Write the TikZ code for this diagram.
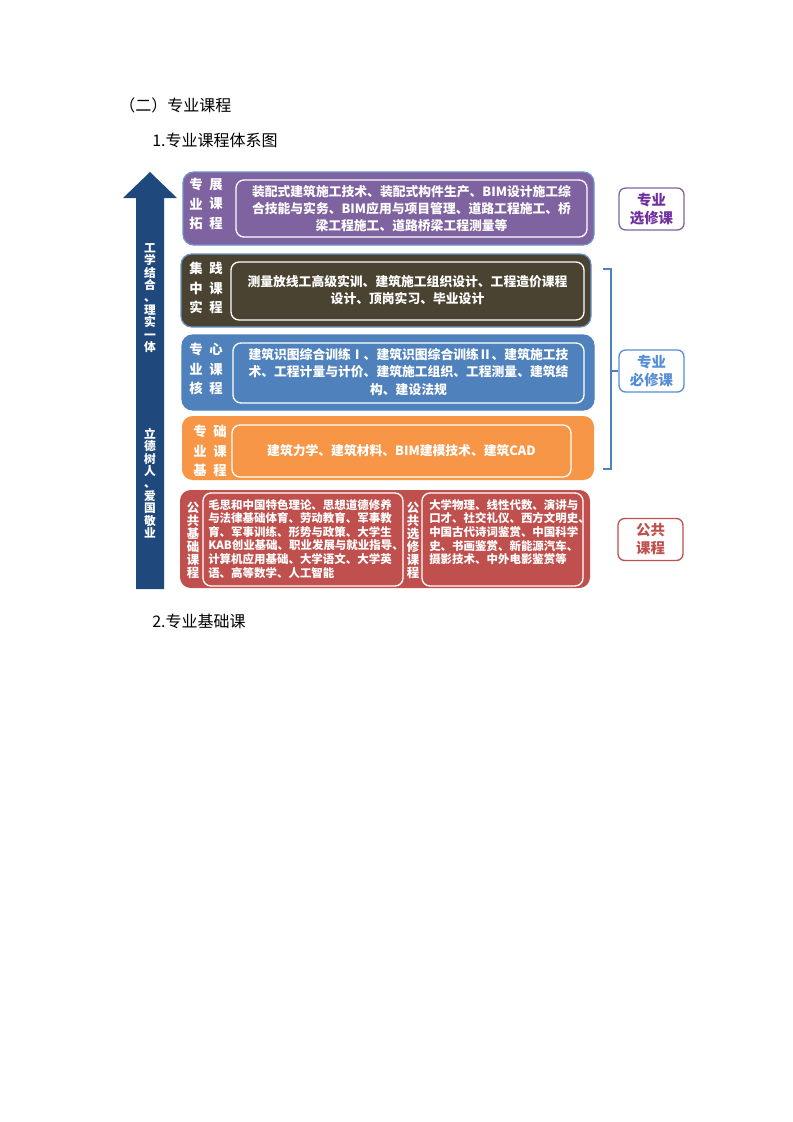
\documentclass[tikz,border=0pt]{standalone}
\usepackage{fontspec}
\setmainfont{Noto Sans CJK SC}
\usetikzlibrary{fit}
\definecolor{cpurple}{HTML}{7F63A1}
\definecolor{colive}{HTML}{4A4331}
\definecolor{cblue}{HTML}{4F81BD}
\definecolor{corange}{HTML}{F79646}
\definecolor{cred}{HTML}{C0504D}
\definecolor{cnavy}{HTML}{1F497D}
\definecolor{cpurpletext}{HTML}{7030A0}
\definecolor{cbluetext}{HTML}{558ED5}
\begin{document}
\begin{tikzpicture}[x=0.75pt,y=-0.75pt,
  outer/.style={rounded corners=8pt, inner sep=0pt, line width=0.9pt},
  innerbox/.style={draw=white, line width=1pt, rounded corners=6pt, inner sep=0pt},
  boxtext/.style={text=white, font=\bfseries\fontsize{9.6}{12.8}\selectfont, align=center, inner sep=0pt},
  redtext/.style={text=white, font=\bfseries\fontsize{8.6}{10.2}\selectfont, align=left, inner sep=0pt},
  lab/.style={text=white, font=\bfseries\fontsize{10}{14.6}\selectfont, align=center, inner sep=0pt},
  vlab/.style={text=white, font=\bfseries\fontsize{9.3}{9.75}\selectfont, align=center, inner sep=0pt},
  arrowtext/.style={text=white, font=\bfseries\fontsize{8.8}{9.3}\selectfont, align=center, inner sep=0pt},
  heading/.style={font=\fontsize{12}{14}\selectfont, anchor=west, inner sep=0pt},
  sidebox/.style={draw, fill=white, rounded corners=5pt, line width=1pt, minimum width=48.75pt, minimum height=31.5pt, align=center, font=\bfseries\fontsize{10.8}{13.5}\selectfont, inner sep=0pt}
]
\useasboundingbox[fill=white] (0,0) rectangle (793,1122);

% headings
\node[heading] (h1) at (119,105) {（二）专业课程};
\node[heading] (h2) at (152,140) {1.专业课程体系图};
\node[heading] (h3) at (152,621) {2.专业基础课};

% big arrow
\fill[cnavy] (150,172) -- (177,198) -- (164,198) -- (164,589) -- (136,589) -- (136,198) -- (123,198) -- cycle;
\node[arrowtext] (a1) at (150,298) {工\\学\\结\\合\\、\\理\\实\\一\\体};
\node[arrowtext] (a2) at (150,483) {立\\德\\树\\人\\、\\爱\\国\\敬\\业};

% purple box
\node[outer, fill=cpurple, draw=cblue!85, fit={(183,172) (594,245)}] (b1) {};
\node[innerbox, fit={(236,180) (587,237)}] (b1i) {};
\node[boxtext] (b1t) at (411.5,208.5) {装配式建筑施工技术、装配式构件生产、BIM设计施工综\\合技能与实务、BIM应用与项目管理、道路工程施工、桥\\梁工程施工、道路桥梁工程测量等};
\node[lab] (b1l1) at (196,204) {专\\业\\拓};
\node[lab] (b1l2) at (216,204) {展\\课\\程};

% olive box
\node[outer, fill=colive, draw=cblue!85, fit={(181,254) (591,327)}] (b2) {};
\node[innerbox, fit={(231,262) (584,320)}] (b2i) {};
\node[boxtext] (b2t) at (407.5,290) {测量放线工高级实训、建筑施工组织设计、工程造价课程\\设计、顶岗实习、毕业设计};
\node[lab] (b2l1) at (196,288) {集\\中\\实};
\node[lab] (b2l2) at (216,288) {践\\课\\程};

% blue box
\node[outer, fill=cblue, draw=cblue, fit={(182,335) (594,410)}] (b3) {};
\node[innerbox, fit={(233,343) (584,403)}] (b3i) {};
\node[boxtext] (b3t) at (408.5,372) {建筑识图综合训练Ⅰ、建筑识图综合训练Ⅱ、建筑施工技\\术、工程计量与计价、建筑施工组织、工程测量、建筑结\\构、建设法规};
\node[lab] (b3l1) at (196,369) {专\\业\\核};
\node[lab] (b3l2) at (216,369) {心\\课\\程};

% orange box
\node[outer, fill=corange, fit={(182,416) (594,480)}] (b4) {};
\node[innerbox, fit={(232,425) (571,477)}] (b4i) {};
\node[boxtext] (b4t) at (401.5,451) {建筑力学、建筑材料、BIM建模技术、建筑CAD};
\node[lab] (b4l1) at (200,451) {专\\业\\基};
\node[lab] (b4l2) at (220,451) {础\\课\\程};

% red box
\node[outer, fill=cred, fit={(180,490) (590,588)}] (b5) {};
\node[innerbox, fit={(203,493) (403,586)}] (b5i) {};
\node[innerbox, fit={(422,493) (583,586)}] (b5j) {};
\node[redtext, anchor=north west] (b5t) at (208,499) {毛思和中国特色理论、思想道德修养\\与法律基础体育、劳动教育、军事教\\育、军事训练、形势与政策、大学生\\KAB创业基础、职业发展与就业指导、\\计算机应用基础、大学语文、大学英\\语、高等数学、人工智能};
\node[redtext, anchor=north west] (b5u) at (429,499) {大学物理、线性代数、演讲与\\口才、社交礼仪、西方文明史、\\中国古代诗词鉴赏、中国科学\\史、书画鉴赏、新能源汽车、\\摄影技术、中外电影鉴赏等};
\node[vlab] (b5l) at (193,540) {公\\共\\基\\础\\课\\程};
\node[vlab] (b5m) at (413,540) {公\\共\\选\\修\\课\\程};

% side labels
\node[sidebox, draw=cpurple, text=cpurpletext] (opt) at (651.5,209) {专业\\选修课};
\node[sidebox, draw=cbluetext, text=cbluetext] (req) at (651.5,371) {专业\\必修课};
\node[sidebox, draw=cred, text=cred] (pub) at (650.5,539.5) {公共\\课程};

% bracket
\coordinate (bt) at (603,269);
\coordinate (bb) at (603,469);
\coordinate (bm) at (611,371);
\draw[cblue, line width=1pt] (bt) -- ++(8,0) |- (bb);
\draw[cblue, line width=1pt] (bm) -- (req.west);
\end{tikzpicture}
\end{document}
